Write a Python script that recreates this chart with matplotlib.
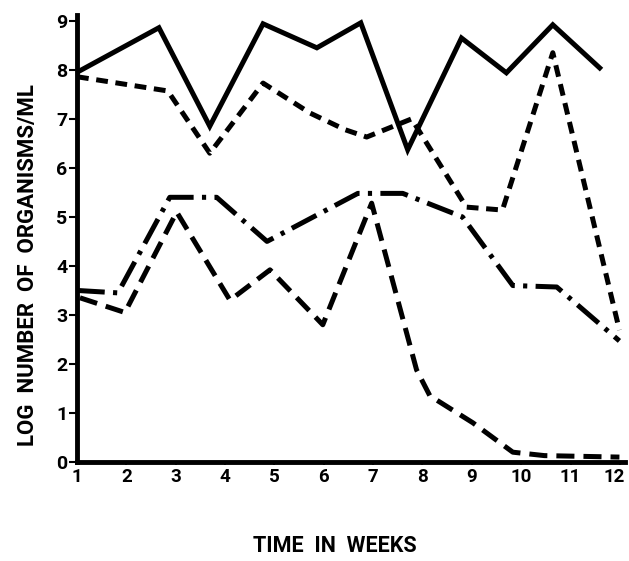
import matplotlib
matplotlib.use("Agg")
import matplotlib.pyplot as plt
import matplotlib.transforms as mtransforms

plt.rcParams["font.family"] = ["Roboto", "DejaVu Sans"]
plt.rcParams["font.weight"] = "bold"
plt.rcParams["lines.scale_dashes"] = False

# four series (x in weeks, y in log organisms/ml)
solid_weeks = [1.0, 2.66, 3.69, 4.77, 5.86, 6.75, 7.70, 8.79, 9.70, 10.64, 11.59]
solid_vals = [7.95, 8.86, 6.85, 8.94, 8.45, 8.96, 6.37, 8.65, 7.94, 8.92, 8.04]

short_weeks = [1.0, 2.84, 3.69, 4.77, 5.72, 6.43, 6.87, 7.78, 8.89, 9.62, 10.64, 11.99]
short_vals = [7.86, 7.57, 6.3, 7.73, 7.12, 6.78, 6.63, 7.0, 5.2, 5.14, 8.35, 2.69]

dashdot_weeks = [1.0, 1.83, 2.88, 3.83, 4.85, 6.69, 7.60, 8.81, 9.83, 10.72, 11.99]
dashdot_vals = [3.5, 3.45, 5.4, 5.4, 4.5, 5.48, 5.48, 5.0, 3.6, 3.57, 2.47]

long_weeks = [1.06, 1.97, 3.02, 4.10, 4.91, 5.98, 6.97, 7.88, 8.15, 9.02, 9.83, 10.47, 11.99]
long_vals = [3.35, 3.05, 5.1, 3.3, 3.92, 2.8, 5.28, 1.88, 1.35, 0.8, 0.2, 0.13, 0.1]

week_ticks = list(range(1, 13))
log_ticks = list(range(0, 10))

fig = plt.figure(figsize=(6.29, 5.61), dpi=100)
ax = fig.add_axes([0.1224, 0.1765, 0.871, 0.7968])

ax.plot(solid_weeks, solid_vals, color="black", lw=3.6, solid_joinstyle="miter")
ax.plot(short_weeks, short_vals, color="black", lw=3.6, linestyle=(0, (8.5, 5.5)))
ax.plot(dashdot_weeks, dashdot_vals, color="black", lw=3.6,
        linestyle=(0, (20, 6, 3, 6)))
ax.plot(long_weeks, long_vals, color="black", lw=3.6, linestyle=(0, (13, 6.5)))

ax.set_xlim(1, 12.1)
ax.set_ylim(0, 9.12)
ax.set_xticks(week_ticks)
ax.set_yticks(log_ticks)

for s in ["top", "right"]:
    ax.spines[s].set_visible(False)
for s in ["left", "bottom"]:
    ax.spines[s].set_linewidth(3.5)

ax.tick_params(axis="y", direction="out", length=6, width=1.5, pad=1, labelsize=14)
ax.tick_params(axis="x", direction="out", length=2, width=1.5, pad=2, labelsize=13.5)

# nudge the "12" left so it stays inside the figure
last = ax.get_xticklabels()[-1]
last.set_transform(last.get_transform() +
                   mtransforms.ScaledTranslation(-4 / 72, 0, fig.dpi_scale_trans))

fig.text(0.045, 0.528, "LOG  NUMBER  OF  ORGANISMS/ML", fontsize=16,
         rotation=90, ha="center", va="center")
fig.text(0.533, 0.008, "TIME  IN  WEEKS", fontsize=15.5,
         ha="center", va="bottom")

fig.savefig("out.png", dpi=100)
